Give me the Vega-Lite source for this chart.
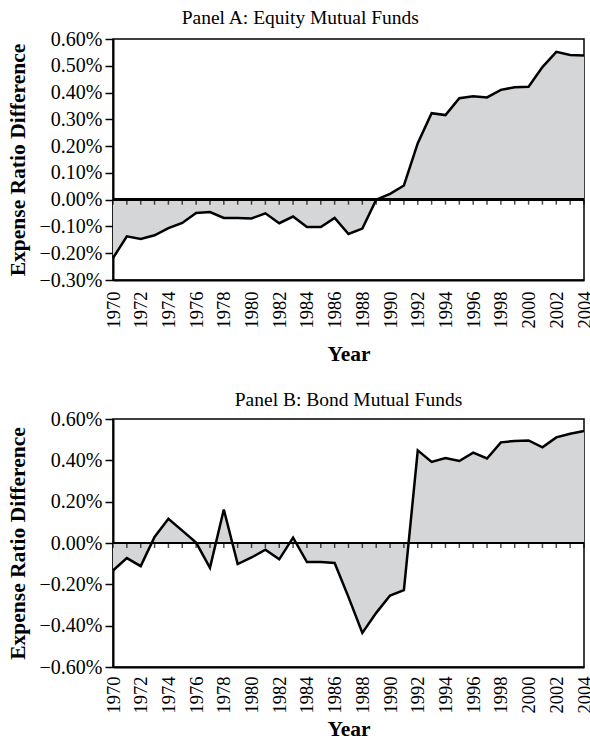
{
  "$schema": "https://vega.github.io/schema/vega-lite/v6.json",
  "padding": {"left": 6, "top": 6, "right": 5, "bottom": 2},
  "spacing": 22,
  "config": {
    "font": "Liberation Serif",
    "view": {"stroke": "#000", "strokeWidth": 1.5},
    "axis": {
      "labelFont": "Liberation Serif",
      "titleFont": "Liberation Serif",
      "labelFontSize": 20,
      "titleFontSize": 21.5,
      "titleFontWeight": "bold",
      "labelColor": "#000",
      "titleColor": "#000",
      "domainColor": "#000",
      "tickColor": "#000",
      "grid": false
    },
    "title": {"font": "Liberation Serif", "fontSize": 19.5, "fontWeight": "normal", "color": "#000", "offset": 1}
  },
  "datasets": {
    "equity": [
      {"year": 1970, "diff": -0.218}, {"year": 1971, "diff": -0.137}, {"year": 1972, "diff": -0.147},
      {"year": 1973, "diff": -0.133}, {"year": 1974, "diff": -0.106}, {"year": 1975, "diff": -0.087},
      {"year": 1976, "diff": -0.050}, {"year": 1977, "diff": -0.046}, {"year": 1978, "diff": -0.068},
      {"year": 1979, "diff": -0.068}, {"year": 1980, "diff": -0.070}, {"year": 1981, "diff": -0.051},
      {"year": 1982, "diff": -0.088}, {"year": 1983, "diff": -0.063}, {"year": 1984, "diff": -0.102},
      {"year": 1985, "diff": -0.102}, {"year": 1986, "diff": -0.068}, {"year": 1987, "diff": -0.128},
      {"year": 1988, "diff": -0.108}, {"year": 1989, "diff": 0.000}, {"year": 1990, "diff": 0.022},
      {"year": 1991, "diff": 0.053}, {"year": 1992, "diff": 0.211}, {"year": 1993, "diff": 0.323},
      {"year": 1994, "diff": 0.316}, {"year": 1995, "diff": 0.379}, {"year": 1996, "diff": 0.386},
      {"year": 1997, "diff": 0.382}, {"year": 1998, "diff": 0.410}, {"year": 1999, "diff": 0.420},
      {"year": 2000, "diff": 0.422}, {"year": 2001, "diff": 0.495}, {"year": 2002, "diff": 0.552},
      {"year": 2003, "diff": 0.540}, {"year": 2004, "diff": 0.538}
    ],
    "bond": [
      {"year": 1970, "diff": -0.133}, {"year": 1971, "diff": -0.073}, {"year": 1972, "diff": -0.112},
      {"year": 1973, "diff": 0.029}, {"year": 1974, "diff": 0.117}, {"year": 1975, "diff": 0.060},
      {"year": 1976, "diff": 0.002}, {"year": 1977, "diff": -0.120}, {"year": 1978, "diff": 0.162},
      {"year": 1979, "diff": -0.102}, {"year": 1980, "diff": -0.070}, {"year": 1981, "diff": -0.032},
      {"year": 1982, "diff": -0.079}, {"year": 1983, "diff": 0.026}, {"year": 1984, "diff": -0.092},
      {"year": 1985, "diff": -0.092}, {"year": 1986, "diff": -0.097}, {"year": 1987, "diff": -0.262},
      {"year": 1988, "diff": -0.435}, {"year": 1989, "diff": -0.338}, {"year": 1990, "diff": -0.254},
      {"year": 1991, "diff": -0.228}, {"year": 1992, "diff": 0.448}, {"year": 1993, "diff": 0.392},
      {"year": 1994, "diff": 0.411}, {"year": 1995, "diff": 0.397}, {"year": 1996, "diff": 0.437},
      {"year": 1997, "diff": 0.409}, {"year": 1998, "diff": 0.487}, {"year": 1999, "diff": 0.494},
      {"year": 2000, "diff": 0.496}, {"year": 2001, "diff": 0.463}, {"year": 2002, "diff": 0.511},
      {"year": 2003, "diff": 0.529}, {"year": 2004, "diff": 0.542}
    ]
  },
  "vconcat": [
    {
      "title": {"text": "Panel A: Equity Mutual Funds", "frame": "bounds"},
      "width": 471,
      "height": 241,
      "data": {"name": "equity"},
      "encoding": {
        "x": {
          "field": "year", "type": "quantitative",
          "scale": {"domain": [1970, 2004], "nice": false, "zero": false},
          "axis": {
            "title": "Year",
            "values": [1970,1972,1974,1976,1978,1980,1982,1984,1986,1988,1990,1992,1994,1996,1998,2000,2002,2004],
            "format": "d", "ticks": false, "domain": true, "domainWidth": 2,
            "labelFontSize": 18.5,
            "labelAngle": 270, "labelAlign": "right", "labelBaseline": "middle",
            "labelPadding": 11, "titlePadding": 15, "labelFlush": false, "labelOverlap": false
          }
        },
        "y": {
          "field": "diff", "type": "quantitative",
          "scale": {"domain": [-0.3, 0.6], "nice": false},
          "axis": {
            "title": "Expense Ratio Difference",
            "values": [-0.3,-0.2,-0.1,0,0.1,0.2,0.3,0.4,0.5,0.6],
            "labelExpr": "format(datum.value, '.2f') + '%'",
            "tickSize": 8, "tickWidth": 1.5, "domainWidth": 2,
            "labelPadding": 3, "titlePadding": 10, "labelFlush": false, "labelOverlap": false
          }
        }
      },
      "layer": [
        {"mark": {"type": "area", "color": "#d5d6d8"}},
        {"mark": {"type": "rule", "color": "#000", "strokeWidth": 2}, "encoding": {"x": null, "y": {"datum": 0}}},
        {"mark": {"type": "tick", "orient": "vertical", "color": "#000", "size": 5, "thickness": 1.5, "yOffset": 2.5}, "encoding": {"y": {"datum": 0}}},
        {"mark": {"type": "line", "color": "#000", "strokeWidth": 2.5}}
      ]
    },
    {
      "title": {"text": "Panel B: Bond Mutual Funds", "offset": -1},
      "width": 471,
      "height": 248,
      "data": {"name": "bond"},
      "encoding": {
        "x": {
          "field": "year", "type": "quantitative",
          "scale": {"domain": [1970, 2004], "nice": false, "zero": false},
          "axis": {
            "title": "Year",
            "values": [1970,1972,1974,1976,1978,1980,1982,1984,1986,1988,1990,1992,1994,1996,1998,2000,2002,2004],
            "format": "d", "ticks": false, "domain": true, "domainWidth": 2,
            "labelFontSize": 18.5,
            "labelAngle": 270, "labelAlign": "right", "labelBaseline": "middle",
            "labelPadding": 9, "titlePadding": 5, "labelFlush": false, "labelOverlap": false
          }
        },
        "y": {
          "field": "diff", "type": "quantitative",
          "scale": {"domain": [-0.6, 0.6], "nice": false},
          "axis": {
            "title": "Expense Ratio Difference",
            "values": [-0.6,-0.4,-0.2,0,0.2,0.4,0.6],
            "labelExpr": "format(datum.value, '.2f') + '%'",
            "tickSize": 8, "tickWidth": 1.5, "domainWidth": 2,
            "labelPadding": 3, "titlePadding": 10, "labelFlush": false, "labelOverlap": false
          }
        }
      },
      "layer": [
        {"mark": {"type": "area", "color": "#d5d6d8"}},
        {"mark": {"type": "rule", "color": "#000", "strokeWidth": 2}, "encoding": {"x": null, "y": {"datum": 0}}},
        {"mark": {"type": "tick", "orient": "vertical", "color": "#000", "size": 5, "thickness": 1.5, "yOffset": 2.5}, "encoding": {"y": {"datum": 0}}},
        {"mark": {"type": "line", "color": "#000", "strokeWidth": 2.5}}
      ]
    }
  ]
}
